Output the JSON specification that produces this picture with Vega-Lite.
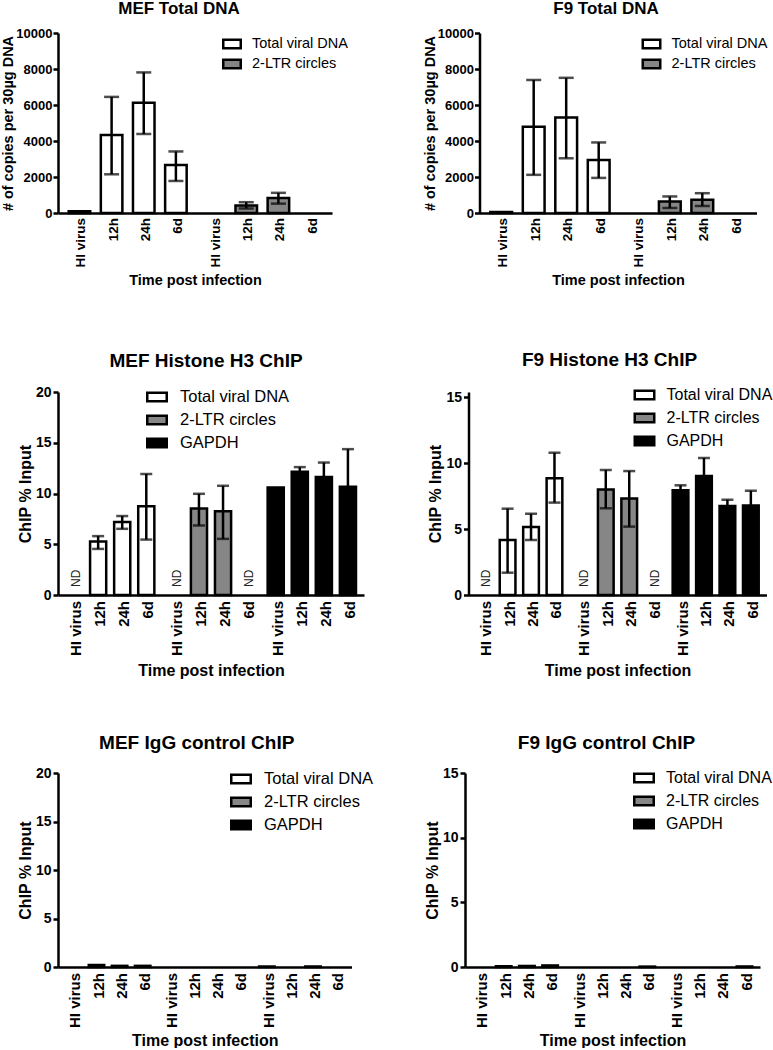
{
  "$schema": "https://vega.github.io/schema/vega-lite/v6.json",
  "padding": {"left": 0, "top": 0, "right": 0, "bottom": 0},
  "background": "white",
  "datasets": {
    "mef_total": [
      {"series": "Total viral DNA", "time": "HI virus", "value": 100, "lo": null, "hi": null},
      {"series": "Total viral DNA", "time": "12h", "value": 4340, "lo": 2150, "hi": 6450},
      {"series": "Total viral DNA", "time": "24h", "value": 6130, "lo": 4390, "hi": 7810},
      {"series": "Total viral DNA", "time": "6d", "value": 2670, "lo": 1780, "hi": 3420},
      {"series": "2-LTR circles", "time": "HI virus", "value": null, "lo": null, "hi": null},
      {"series": "2-LTR circles", "time": "12h", "value": 410, "lo": 250, "hi": 600},
      {"series": "2-LTR circles", "time": "24h", "value": 840, "lo": 520, "hi": 1120},
      {"series": "2-LTR circles", "time": "6d", "value": null, "lo": null, "hi": null}
    ],
    "f9_total": [
      {"series": "Total viral DNA", "time": "HI virus", "value": 60, "lo": null, "hi": null},
      {"series": "Total viral DNA", "time": "12h", "value": 4790, "lo": 2120, "hi": 7390},
      {"series": "Total viral DNA", "time": "24h", "value": 5300, "lo": 3040, "hi": 7510},
      {"series": "Total viral DNA", "time": "6d", "value": 2950, "lo": 1950, "hi": 3920},
      {"series": "2-LTR circles", "time": "HI virus", "value": null, "lo": null, "hi": null},
      {"series": "2-LTR circles", "time": "12h", "value": 640, "lo": 280, "hi": 920},
      {"series": "2-LTR circles", "time": "24h", "value": 740, "lo": 390, "hi": 1100},
      {"series": "2-LTR circles", "time": "6d", "value": null, "lo": null, "hi": null}
    ],
    "mef_h3": [
      {"series": "Total viral DNA", "time": "HI virus", "value": null, "lo": null, "hi": null, "note": "ND"},
      {"series": "Total viral DNA", "time": "12h", "value": 5.26, "lo": 4.54, "hi": 5.8, "note": null},
      {"series": "Total viral DNA", "time": "24h", "value": 7.18, "lo": 6.52, "hi": 7.78, "note": null},
      {"series": "Total viral DNA", "time": "6d", "value": 8.74, "lo": 5.46, "hi": 11.92, "note": null},
      {"series": "2-LTR circles", "time": "HI virus", "value": null, "lo": null, "hi": null, "note": "ND"},
      {"series": "2-LTR circles", "time": "12h", "value": 8.51, "lo": 6.85, "hi": 9.97, "note": null},
      {"series": "2-LTR circles", "time": "24h", "value": 8.25, "lo": 5.53, "hi": 10.76, "note": null},
      {"series": "2-LTR circles", "time": "6d", "value": null, "lo": null, "hi": null, "note": "ND"},
      {"series": "GAPDH", "time": "HI virus", "value": 10.6, "lo": null, "hi": null, "note": null},
      {"series": "GAPDH", "time": "12h", "value": 12.15, "lo": 11.7, "hi": 12.6, "note": null},
      {"series": "GAPDH", "time": "24h", "value": 11.62, "lo": 10.2, "hi": 13.05, "note": null},
      {"series": "GAPDH", "time": "6d", "value": 10.66, "lo": 7.0, "hi": 14.37, "note": null}
    ],
    "f9_h3": [
      {"series": "Total viral DNA", "time": "HI virus", "value": null, "lo": null, "hi": null, "note": "ND"},
      {"series": "Total viral DNA", "time": "12h", "value": 4.17, "lo": 1.69, "hi": 6.54, "note": null},
      {"series": "Total viral DNA", "time": "24h", "value": 5.15, "lo": 4.17, "hi": 6.16, "note": null},
      {"series": "Total viral DNA", "time": "6d", "value": 8.84, "lo": 7.0, "hi": 10.78, "note": null},
      {"series": "2-LTR circles", "time": "HI virus", "value": null, "lo": null, "hi": null, "note": "ND"},
      {"series": "2-LTR circles", "time": "12h", "value": 8.0, "lo": 6.57, "hi": 9.47, "note": null},
      {"series": "2-LTR circles", "time": "24h", "value": 7.32, "lo": 5.18, "hi": 9.39, "note": null},
      {"series": "2-LTR circles", "time": "6d", "value": null, "lo": null, "hi": null, "note": "ND"},
      {"series": "GAPDH", "time": "HI virus", "value": 7.93, "lo": 7.55, "hi": 8.31, "note": null},
      {"series": "GAPDH", "time": "12h", "value": 9.02, "lo": 7.66, "hi": 10.38, "note": null},
      {"series": "GAPDH", "time": "24h", "value": 6.74, "lo": 6.26, "hi": 7.22, "note": null},
      {"series": "GAPDH", "time": "6d", "value": 6.79, "lo": 5.7, "hi": 7.9, "note": null}
    ],
    "mef_igg": [
      {"series": "Total viral DNA", "time": "HI virus", "value": null},
      {"series": "Total viral DNA", "time": "12h", "value": 0.2},
      {"series": "Total viral DNA", "time": "24h", "value": 0.12},
      {"series": "Total viral DNA", "time": "6d", "value": 0.12},
      {"series": "2-LTR circles", "time": "HI virus", "value": null},
      {"series": "2-LTR circles", "time": "12h", "value": null},
      {"series": "2-LTR circles", "time": "24h", "value": null},
      {"series": "2-LTR circles", "time": "6d", "value": null},
      {"series": "GAPDH", "time": "HI virus", "value": 0.05},
      {"series": "GAPDH", "time": "12h", "value": null},
      {"series": "GAPDH", "time": "24h", "value": 0.05},
      {"series": "GAPDH", "time": "6d", "value": null}
    ],
    "f9_igg": [
      {"series": "Total viral DNA", "time": "HI virus", "value": null},
      {"series": "Total viral DNA", "time": "12h", "value": 0.06},
      {"series": "Total viral DNA", "time": "24h", "value": 0.08},
      {"series": "Total viral DNA", "time": "6d", "value": 0.12},
      {"series": "2-LTR circles", "time": "HI virus", "value": null},
      {"series": "2-LTR circles", "time": "12h", "value": null},
      {"series": "2-LTR circles", "time": "24h", "value": null},
      {"series": "2-LTR circles", "time": "6d", "value": 0.03},
      {"series": "GAPDH", "time": "HI virus", "value": null},
      {"series": "GAPDH", "time": "12h", "value": null},
      {"series": "GAPDH", "time": "24h", "value": null},
      {"series": "GAPDH", "time": "6d", "value": 0.04}
    ]
  },
  "bounds": "flush",
  "spacing": 359,
  "resolve": {"scale": {"x": "independent", "y": "independent", "xOffset": "independent", "fill": "independent"}, "legend": {"fill": "independent"}},
  "vconcat": [
    {
      "bounds": "flush",
      "spacing": 147.5,
      "resolve": {"scale": {"x": "independent", "y": "independent", "xOffset": "independent", "fill": "independent"}, "legend": {"fill": "independent"}},
      "hconcat": [
        {
          "title": {"text": "MEF Total DNA", "fontSize": 17, "offset": 9, "frame": "group", "dx": -16},
          "width": 274, "height": 180,
          "data": {"name": "mef_total"},
          "encoding": {
            "x": {"field": "series", "type": "nominal", "scale": {"domain": ["Total viral DNA", "2-LTR circles"], "paddingInner": 0.045, "paddingOuter": 0.04}, "axis": {"labels": false, "ticks": false, "title": "Time post infection", "titlePadding": 60, "titleFontSize": 14.5}},
            "xOffset": {"field": "time", "type": "nominal", "scale": {"domain": ["HI virus", "12h", "24h", "6d"], "paddingInner": 0.33, "paddingOuter": 0.165}}
          },
          "layer": [
            {
              "mark": {"type": "bar", "stroke": "black", "strokeWidth": 2.5},
              "encoding": {
                "y": {"field": "value", "type": "quantitative", "title": "# of copies per 30µg DNA", "scale": {"domain": [0, 10000], "nice": false}, "axis": {"values": [0, 2000, 4000, 6000, 8000, 10000], "tickCount": 10, "format": "d", "labelOverlap": false, "labelFontSize": 13, "labelPadding": 1, "titlePadding": 0, "titleFontSize": 14.5}},
                "fill": {"field": "series", "type": "nominal", "scale": {"domain": ["Total viral DNA", "2-LTR circles"], "range": ["white", "#868686"]},
                  "legend": {"orient": "none", "legendX": 164, "legendY": 1, "title": null, "symbolType": "M-1,-0.49H1V0.49H-1Z", "symbolSize": 306, "symbolStrokeColor": "black", "symbolStrokeWidth": 2.5, "labelFontSize": 14.5, "labelOffset": 10, "rowPadding": 0, "padding": 0}}
              }
            },
            {
              "transform": [{"filter": "isValid(datum.lo)"}],
              "mark": {"type": "rule", "strokeWidth": 2.5, "color": "black"},
              "encoding": {"y": {"field": "lo", "type": "quantitative", "title": "# of copies per 30µg DNA"}, "y2": {"field": "hi"}}
            },
            {
              "transform": [{"filter": "isValid(datum.hi)"}],
              "mark": {"type": "tick", "thickness": 2.5, "size": 15, "color": "black"},
              "encoding": {"y": {"field": "hi", "type": "quantitative", "title": "# of copies per 30µg DNA"}}
            },
            {
              "transform": [{"filter": "isValid(datum.lo)"}],
              "mark": {"type": "tick", "thickness": 2.5, "size": 15, "color": "black"},
              "encoding": {"y": {"field": "lo", "type": "quantitative", "title": "# of copies per 30µg DNA"}}
            },
            {
              "mark": {"type": "text", "angle": 270, "align": "right", "baseline": "middle", "dx": -5, "dy": 2, "fontSize": 13.5, "fontWeight": "bold", "color": "black"},
              "encoding": {"y": {"datum": 0}, "text": {"field": "time"}}
            }
          ]
        },
        {
          "title": {"text": "F9 Total DNA", "fontSize": 17, "offset": 9, "frame": "group", "dx": -12},
          "width": 277, "height": 180,
          "data": {"name": "f9_total"},
          "encoding": {
            "x": {"field": "series", "type": "nominal", "scale": {"domain": ["Total viral DNA", "2-LTR circles"], "paddingInner": 0.045, "paddingOuter": 0.04}, "axis": {"labels": false, "ticks": false, "title": "Time post infection", "titlePadding": 60, "titleFontSize": 14.5}},
            "xOffset": {"field": "time", "type": "nominal", "scale": {"domain": ["HI virus", "12h", "24h", "6d"], "paddingInner": 0.33, "paddingOuter": 0.165}}
          },
          "layer": [
            {
              "mark": {"type": "bar", "stroke": "black", "strokeWidth": 2.5},
              "encoding": {
                "y": {"field": "value", "type": "quantitative", "title": "# of copies per 30µg DNA", "scale": {"domain": [0, 10000], "nice": false}, "axis": {"values": [0, 2000, 4000, 6000, 8000, 10000], "tickCount": 10, "format": "d", "labelOverlap": false, "labelFontSize": 13, "labelPadding": 1, "titlePadding": 0, "titleFontSize": 14.5}},
                "fill": {"field": "series", "type": "nominal", "scale": {"domain": ["Total viral DNA", "2-LTR circles"], "range": ["white", "#868686"]},
                  "legend": {"orient": "none", "legendX": 162, "legendY": 1, "title": null, "symbolType": "M-1,-0.49H1V0.49H-1Z", "symbolSize": 306, "symbolStrokeColor": "black", "symbolStrokeWidth": 2.5, "labelFontSize": 14.5, "labelOffset": 10, "rowPadding": 0, "padding": 0}}
              }
            },
            {
              "transform": [{"filter": "isValid(datum.lo)"}],
              "mark": {"type": "rule", "strokeWidth": 2.5, "color": "black"},
              "encoding": {"y": {"field": "lo", "type": "quantitative", "title": "# of copies per 30µg DNA"}, "y2": {"field": "hi"}}
            },
            {
              "transform": [{"filter": "isValid(datum.hi)"}],
              "mark": {"type": "tick", "thickness": 2.5, "size": 15, "color": "black"},
              "encoding": {"y": {"field": "hi", "type": "quantitative", "title": "# of copies per 30µg DNA"}}
            },
            {
              "transform": [{"filter": "isValid(datum.lo)"}],
              "mark": {"type": "tick", "thickness": 2.5, "size": 15, "color": "black"},
              "encoding": {"y": {"field": "lo", "type": "quantitative", "title": "# of copies per 30µg DNA"}}
            },
            {
              "mark": {"type": "text", "angle": 270, "align": "right", "baseline": "middle", "dx": -5, "dy": 2, "fontSize": 13.5, "fontWeight": "bold", "color": "black"},
              "encoding": {"y": {"datum": 0}, "text": {"field": "time"}}
            }
          ]
        }
      ]
    },
    {
      "bounds": "flush",
      "spacing": 381,
      "resolve": {"scale": {"x": "independent", "y": "independent", "xOffset": "independent", "fill": "independent"}, "legend": {"fill": "independent"}},
      "vconcat": [
        {
          "bounds": "flush",
          "spacing": 104.5,
          "resolve": {"scale": {"x": "independent", "y": "independent", "xOffset": "independent", "fill": "independent"}, "legend": {"fill": "independent"}},
          "hconcat": [
            {
              "title": {"text": "MEF Histone H3 ChIP", "fontSize": 19, "offset": 14, "frame": "group", "dx": -5},
              "width": 306, "height": 203,
              "data": {"name": "mef_h3"},
              "encoding": {
                "x": {"field": "series", "type": "nominal", "scale": {"domain": ["Total viral DNA", "2-LTR circles", "GAPDH"], "paddingInner": 0.045, "paddingOuter": 0.04}, "axis": {"labels": false, "ticks": false, "title": "Time post infection", "titlePadding": 67, "titleFontSize": 16}},
                "xOffset": {"field": "time", "type": "nominal", "scale": {"domain": ["HI virus", "12h", "24h", "6d"], "paddingInner": 0.33, "paddingOuter": 0.165}}
              },
              "layer": [
                {
                  "mark": {"type": "bar", "stroke": "black", "strokeWidth": 2.5},
                  "encoding": {
                    "y": {"field": "value", "type": "quantitative", "title": "ChIP % Input", "scale": {"domain": [0, 20], "nice": false}, "axis": {"values": [0, 5, 10, 15, 20], "tickCount": 10, "labelOverlap": false, "labelFontSize": 14, "titleFontSize": 16}},
                    "fill": {"field": "series", "type": "nominal", "scale": {"domain": ["Total viral DNA", "2-LTR circles", "GAPDH"], "range": ["white", "#868686", "black"]},
                      "legend": {"orient": "none", "legendX": 88, "legendY": -6, "title": null, "symbolType": "M-1,-0.44H1V0.44H-1Z", "symbolSize": 380, "symbolStrokeColor": "black", "symbolStrokeWidth": 2.5, "labelFontSize": 16.5, "labelOffset": 12, "rowPadding": 2, "padding": 0}}
                  }
                },
                {
                  "transform": [{"filter": "isValid(datum.lo)"}],
                  "mark": {"type": "rule", "strokeWidth": 2.5, "color": "black"},
                  "encoding": {"y": {"field": "lo", "type": "quantitative", "title": "ChIP % Input"}, "y2": {"field": "hi"}}
                },
                {
                  "transform": [{"filter": "isValid(datum.hi)"}],
                  "mark": {"type": "tick", "thickness": 2.5, "size": 12, "color": "black"},
                  "encoding": {"y": {"field": "hi", "type": "quantitative", "title": "ChIP % Input"}}
                },
                {
                  "transform": [{"filter": "isValid(datum.lo)"}],
                  "mark": {"type": "tick", "thickness": 2.5, "size": 12, "color": "black"},
                  "encoding": {"y": {"field": "lo", "type": "quantitative", "title": "ChIP % Input"}}
                },
                {
                  "transform": [{"filter": "isValid(datum.note)"}],
                  "mark": {"type": "text", "angle": 270, "align": "left", "baseline": "middle", "dx": 8, "dy": 2, "fontSize": 12, "color": "#222222"},
                  "encoding": {"y": {"datum": 0}, "text": {"field": "note"}}
                },
                {
                  "mark": {"type": "text", "angle": 270, "align": "right", "baseline": "middle", "dx": -6, "dy": 2, "fontSize": 15, "fontWeight": "bold", "color": "black"},
                  "encoding": {"y": {"datum": 0}, "text": {"field": "time"}}
                }
              ]
            },
            {
              "title": {"text": "F9 Histone H3 ChIP", "fontSize": 19, "offset": 14, "frame": "group", "dx": -8},
              "width": 298, "height": 203,
              "data": {"name": "f9_h3"},
              "encoding": {
                "x": {"field": "series", "type": "nominal", "scale": {"domain": ["Total viral DNA", "2-LTR circles", "GAPDH"], "paddingInner": 0.045, "paddingOuter": 0.04}, "axis": {"labels": false, "ticks": false, "title": "Time post infection", "titlePadding": 67, "titleFontSize": 16}},
                "xOffset": {"field": "time", "type": "nominal", "scale": {"domain": ["HI virus", "12h", "24h", "6d"], "paddingInner": 0.33, "paddingOuter": 0.165}}
              },
              "layer": [
                {
                  "mark": {"type": "bar", "stroke": "black", "strokeWidth": 2.5},
                  "encoding": {
                    "y": {"field": "value", "type": "quantitative", "title": "ChIP % Input", "scale": {"domain": [0, 15.38], "nice": false}, "axis": {"values": [0, 5, 10, 15], "tickCount": 10, "labelOverlap": false, "labelFontSize": 14, "titleFontSize": 16}},
                    "fill": {"field": "series", "type": "nominal", "scale": {"domain": ["Total viral DNA", "2-LTR circles", "GAPDH"], "range": ["white", "#868686", "black"]},
                      "legend": {"orient": "none", "legendX": 165, "legendY": -8, "title": null, "symbolType": "M-1,-0.44H1V0.44H-1Z", "symbolSize": 380, "symbolStrokeColor": "black", "symbolStrokeWidth": 2.5, "labelFontSize": 16, "labelOffset": 11, "rowPadding": 2, "padding": 0}}
                  }
                },
                {
                  "transform": [{"filter": "isValid(datum.lo)"}],
                  "mark": {"type": "rule", "strokeWidth": 2.5, "color": "black"},
                  "encoding": {"y": {"field": "lo", "type": "quantitative", "title": "ChIP % Input"}, "y2": {"field": "hi"}}
                },
                {
                  "transform": [{"filter": "isValid(datum.hi)"}],
                  "mark": {"type": "tick", "thickness": 2.5, "size": 12, "color": "black"},
                  "encoding": {"y": {"field": "hi", "type": "quantitative", "title": "ChIP % Input"}}
                },
                {
                  "transform": [{"filter": "isValid(datum.lo)"}],
                  "mark": {"type": "tick", "thickness": 2.5, "size": 12, "color": "black"},
                  "encoding": {"y": {"field": "lo", "type": "quantitative", "title": "ChIP % Input"}}
                },
                {
                  "transform": [{"filter": "isValid(datum.note)"}],
                  "mark": {"type": "text", "angle": 270, "align": "left", "baseline": "middle", "dx": 8, "dy": 2, "fontSize": 12, "color": "#222222"},
                  "encoding": {"y": {"datum": 0}, "text": {"field": "note"}}
                },
                {
                  "mark": {"type": "text", "angle": 270, "align": "right", "baseline": "middle", "dx": -6, "dy": 2, "fontSize": 15, "fontWeight": "bold", "color": "black"},
                  "encoding": {"y": {"datum": 0}, "text": {"field": "time"}}
                }
              ]
            }
          ]
        },
        {
          "bounds": "flush",
          "spacing": 113,
          "resolve": {"scale": {"x": "independent", "y": "independent", "xOffset": "independent", "fill": "independent"}, "legend": {"fill": "independent"}},
          "hconcat": [
            {
              "title": {"text": "MEF IgG control ChIP", "fontSize": 19, "offset": 13, "frame": "group", "dx": -8},
              "width": 293.5, "height": 194,
              "data": {"name": "mef_igg"},
              "encoding": {
                "x": {"field": "series", "type": "nominal", "scale": {"domain": ["Total viral DNA", "2-LTR circles", "GAPDH"], "paddingInner": 0.045, "paddingOuter": 0.04}, "axis": {"labels": false, "ticks": false, "title": "Time post infection", "titlePadding": 65, "titleFontSize": 16}},
                "xOffset": {"field": "time", "type": "nominal", "scale": {"domain": ["HI virus", "12h", "24h", "6d"], "paddingInner": 0.33, "paddingOuter": 0.165}}
              },
              "layer": [
                {
                  "mark": {"type": "bar", "stroke": "black", "strokeWidth": 2.5},
                  "encoding": {
                    "y": {"field": "value", "type": "quantitative", "title": "ChIP % Input", "scale": {"domain": [0, 20], "nice": false}, "axis": {"values": [0, 5, 10, 15, 20], "tickCount": 10, "labelOverlap": false, "labelFontSize": 14, "titleFontSize": 16}},
                    "fill": {"field": "series", "type": "nominal", "scale": {"domain": ["Total viral DNA", "2-LTR circles", "GAPDH"], "range": ["white", "#868686", "black"]},
                      "legend": {"orient": "none", "legendX": 172, "legendY": -5, "title": null, "symbolType": "M-1,-0.44H1V0.44H-1Z", "symbolSize": 380, "symbolStrokeColor": "black", "symbolStrokeWidth": 2.5, "labelFontSize": 16.5, "labelOffset": 12, "rowPadding": 2, "padding": 0}}
                  }
                },
                {
                  "mark": {"type": "text", "angle": 270, "align": "right", "baseline": "middle", "dx": -6, "dy": 2, "fontSize": 15, "fontWeight": "bold", "color": "black"},
                  "encoding": {"y": {"datum": 0}, "text": {"field": "time"}}
                }
              ]
            },
            {
              "title": {"text": "F9 IgG control ChIP", "fontSize": 19, "offset": 13, "frame": "group", "dx": -6},
              "width": 295, "height": 194,
              "data": {"name": "f9_igg"},
              "encoding": {
                "x": {"field": "series", "type": "nominal", "scale": {"domain": ["Total viral DNA", "2-LTR circles", "GAPDH"], "paddingInner": 0.045, "paddingOuter": 0.04}, "axis": {"labels": false, "ticks": false, "title": "Time post infection", "titlePadding": 65, "titleFontSize": 16}},
                "xOffset": {"field": "time", "type": "nominal", "scale": {"domain": ["HI virus", "12h", "24h", "6d"], "paddingInner": 0.33, "paddingOuter": 0.165}}
              },
              "layer": [
                {
                  "mark": {"type": "bar", "stroke": "black", "strokeWidth": 2.5},
                  "encoding": {
                    "y": {"field": "value", "type": "quantitative", "title": "ChIP % Input", "scale": {"domain": [0, 15], "nice": false}, "axis": {"values": [0, 5, 10, 15], "tickCount": 10, "labelOverlap": false, "labelFontSize": 14, "titleFontSize": 16}},
                    "fill": {"field": "series", "type": "nominal", "scale": {"domain": ["Total viral DNA", "2-LTR circles", "GAPDH"], "range": ["white", "#868686", "black"]},
                      "legend": {"orient": "none", "legendX": 168, "legendY": -6, "title": null, "symbolType": "M-1,-0.44H1V0.44H-1Z", "symbolSize": 380, "symbolStrokeColor": "black", "symbolStrokeWidth": 2.5, "labelFontSize": 16, "labelOffset": 11, "rowPadding": 2, "padding": 0}}
                  }
                },
                {
                  "mark": {"type": "text", "angle": 270, "align": "right", "baseline": "middle", "dx": -6, "dy": 2, "fontSize": 15, "fontWeight": "bold", "color": "black"},
                  "encoding": {"y": {"datum": 0}, "text": {"field": "time"}}
                }
              ]
            }
          ]
        }
      ]
    }
  ],
  "config": {
    "font": "Liberation Sans",
    "view": {"stroke": null},
    "title": {"fontWeight": "bold", "color": "black", "font": "Liberation Sans"},
    "axis": {"grid": false, "domainColor": "black", "domainWidth": 2.5, "tickColor": "black", "tickWidth": 2.5, "tickSize": 5, "labelColor": "black", "labelFontWeight": "bold", "labelPadding": 2, "labelOverlap": false, "labelFlush": false, "titleColor": "black", "titleFontWeight": "bold", "titlePadding": 2, "labelFont": "Liberation Sans", "titleFont": "Liberation Sans"},
    "legend": {"labelColor": "black", "labelFont": "Liberation Sans", "labelFontWeight": "normal"},
    "text": {"font": "Liberation Sans"}
  }
}
